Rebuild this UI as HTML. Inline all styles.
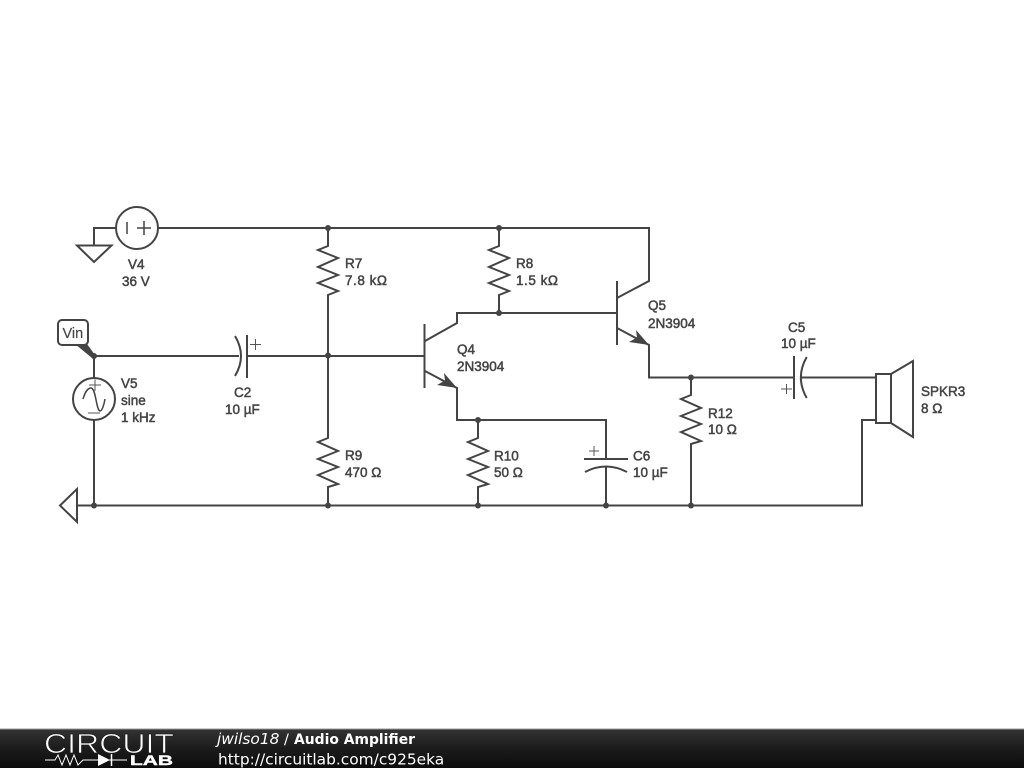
<!DOCTYPE html>
<html>
<head>
<meta charset="utf-8">
<style>
html,body{margin:0;padding:0;background:#fff;}
body{width:1024px;height:768px;overflow:hidden;position:relative;}
svg{position:absolute;left:0;top:0;}
.w{fill:none;stroke:#444;stroke-width:2;}
.n{fill:none;stroke:#444;stroke-width:1.5;}
.p{fill:none;stroke:#555;stroke-width:1;}
.t{font-family:"Liberation Sans",sans-serif;font-size:13.5px;fill:#444;stroke:#444;stroke-width:.5;}
.f{font-family:"DejaVu Sans",sans-serif;fill:#fff;}
</style>
</head>
<body>
<svg width="1024" height="768" viewBox="0 0 1024 768">
<defs>
<linearGradient id="g" x1="0" y1="0" x2="0" y2="1"><stop offset="0" stop-color="#333"/><stop offset="0.5" stop-color="#1c1c1c"/><stop offset="1" stop-color="#0c0c0c"/></linearGradient>
</defs>
<!-- wires -->
<path class="w" d="M158 228H649V281L617 298"/>
<path class="w" d="M116 228H94V245"/>
<path class="w" d="M77 245.500H111.500L94 262Z"/>
<path class="w" d="M94 356H239"/>
<path class="w" d="M247 356H424"/>
<path class="w" d="M94 356V378M94 420V505"/>
<path class="w" d="M77 489V522L60 505.500Z"/>
<path class="w" d="M77 505.500H862V420H876"/>
<!-- R7 -->
<path class="w" d="M328 228V246L318 250 338 258 318 267 338 275 318 283 338 291 328 295V355"/>
<!-- R9 -->
<path class="w" d="M328 355V438L318 442 338 451 318 459 338 467 318 475 338 484 328 487V505"/>
<!-- R8 -->
<path class="w" d="M499 228V246L489 250 509 258 489 267 509 275 489 283 509 291 499 295V313"/>
<!-- R10 -->
<path class="w" d="M478 420V438L468 442 488 451 468 459 488 467 468 475 488 484 478 487V505"/>
<!-- R12 -->
<path class="w" d="M691 377V395L681 399 701 408 681 416 701 424 681 432 701 441 691 444V505"/>
<!-- Q4 -->
<path class="w" d="M424.500 324V388"/>
<path class="w" d="M425 341L457 323V313H617"/>
<path class="w" d="M425 371L457 388V420H606V458"/>
<path fill="#444" d="M457 388L437 385 445 380.500 444 373Z"/>
<!-- Q5 -->
<path class="w" d="M617 281V345"/>
<path class="w" d="M617 328L649 345V377.500H794"/>
<path fill="#444" d="M649 345L629 342 637 337.500 636 330Z"/>
<!-- C2 -->
<path class="w" d="M235 336Q247 356 235 376"/>
<path class="w" d="M247 335V378"/>
<path class="p" d="M250 344.500H261M255.500 339V350"/>
<!-- C6 -->
<path class="w" d="M584 459H628"/>
<path class="w" d="M585 472Q606 461 627 472"/>
<path class="w" d="M606 466.500V505"/>
<path class="p" d="M589 451H599M594 446V456"/>
<!-- C5 -->
<path class="w" d="M794 356V399"/>
<path class="w" d="M806.700 357Q795 377.500 806.700 398"/>
<path class="w" d="M801 377.500H876"/>
<path class="p" d="M781 389H792M786.500 384V394"/>
<!-- Speaker -->
<path class="w" d="M876 374H891V423H876Z"/>
<path class="w" d="M891 374L913 361V437L891 423"/>
<!-- V4 -->
<circle class="w" cx="137" cy="228" r="21"/>
<path class="n" d="M127 222V234M137 228H151M144 221V235"/>
<!-- V5 -->
<circle class="w" cx="94" cy="399" r="21"/>
<path class="n" d="M83 399C85 392 88 388 91 388C96 388 96 410 100 411C102 411 104 405 105 399"/>
<path class="p" d="M89 385H101M95 379.500V391M88 413H100"/>
<!-- Vin tag -->
<path fill="#444" d="M75 344L87 344 95 355 92 358Z"/>
<rect x="58" y="320" width="30" height="25" rx="4" ry="4" fill="#fff" stroke="#444" stroke-width="2"/>
<text class="t" x="62.500" y="338" style="font-size:14.500px;stroke-width:.15">Vin</text>
<!-- dots -->
<g fill="#444">
<circle cx="94" cy="356" r="3"/><circle cx="94" cy="505.500" r="3"/>
<circle cx="328" cy="228" r="3"/><circle cx="499" cy="228" r="3"/>
<circle cx="328" cy="355.500" r="3"/><circle cx="328" cy="505.500" r="3"/>
<circle cx="499" cy="313" r="3"/><circle cx="478" cy="420" r="3"/>
<circle cx="478" cy="505.500" r="3"/><circle cx="606" cy="505.500" r="3"/>
<circle cx="691" cy="505.500" r="3"/><circle cx="691" cy="377.500" r="3"/>
</g>
<!-- labels -->
<text class="t" x="128" y="269">V4</text>
<text class="t" x="122" y="286">36 V</text>
<text class="t" x="121" y="388">V5</text>
<text class="t" x="121" y="405">sine</text>
<text class="t" x="121" y="422">1 kHz</text>
<text class="t" x="234" y="397">C2</text>
<text class="t" x="225" y="414">10 µF</text>
<text class="t" x="345" y="268">R7</text>
<text class="t" x="345" y="285" textLength="42">7.8 kΩ</text>
<text class="t" x="345" y="460">R9</text>
<text class="t" x="345" y="477">470 Ω</text>
<text class="t" x="516" y="268">R8</text>
<text class="t" x="516" y="285" textLength="42">1.5 kΩ</text>
<text class="t" x="457" y="354">Q4</text>
<text class="t" x="457" y="371">2N3904</text>
<text class="t" x="648" y="310">Q5</text>
<text class="t" x="648" y="328">2N3904</text>
<text class="t" x="494" y="460.500">R10</text>
<text class="t" x="494" y="477">50 Ω</text>
<text class="t" x="633" y="460.500">C6</text>
<text class="t" x="633" y="477">10 µF</text>
<text class="t" x="708" y="418">R12</text>
<text class="t" x="708" y="434">10 Ω</text>
<text class="t" x="788" y="332">C5</text>
<text class="t" x="781" y="348">10 µF</text>
<text class="t" x="921" y="396">SPKR3</text>
<text class="t" x="921" y="413">8 Ω</text>
<!-- footer -->
<rect x="0" y="729" width="1024" height="39" fill="url(#g)"/>
<rect x="0" y="728.500" width="1024" height="1" fill="#999"/>
<text x="44" y="753" font-family="'Liberation Sans',sans-serif" font-size="28" fill="#fff" stroke="#222" stroke-width=".8" textLength="130" lengthAdjust="spacingAndGlyphs">CIRCUIT</text>
<path d="M45 760H55L58 755 62 765 66 755 70 765 74 755 78 765 83 760H127" fill="none" stroke="#fff" stroke-width="1"/>
<path d="M98 754V766L110 760Z" fill="#fff"/>
<path d="M111.500 754V766" stroke="#fff" stroke-width="1.500"/>
<text x="130" y="765" font-family="'Liberation Sans',sans-serif" font-size="13.500" font-weight="bold" fill="#fff" stroke="#fff" stroke-width=".4" textLength="43" lengthAdjust="spacingAndGlyphs">LAB</text>
<text class="f" x="217" y="744" font-size="15.400" font-style="italic">jwilso18</text>
<text class="f" x="284" y="744" font-size="14.400">/</text>
<text class="f" x="294" y="744" font-size="13.900" font-weight="bold">Audio Amplifier</text>
<text class="f" x="218" y="764.500" font-size="15.400">http://circuitlab.com/c925eka</text>
</svg>
</body>
</html>
